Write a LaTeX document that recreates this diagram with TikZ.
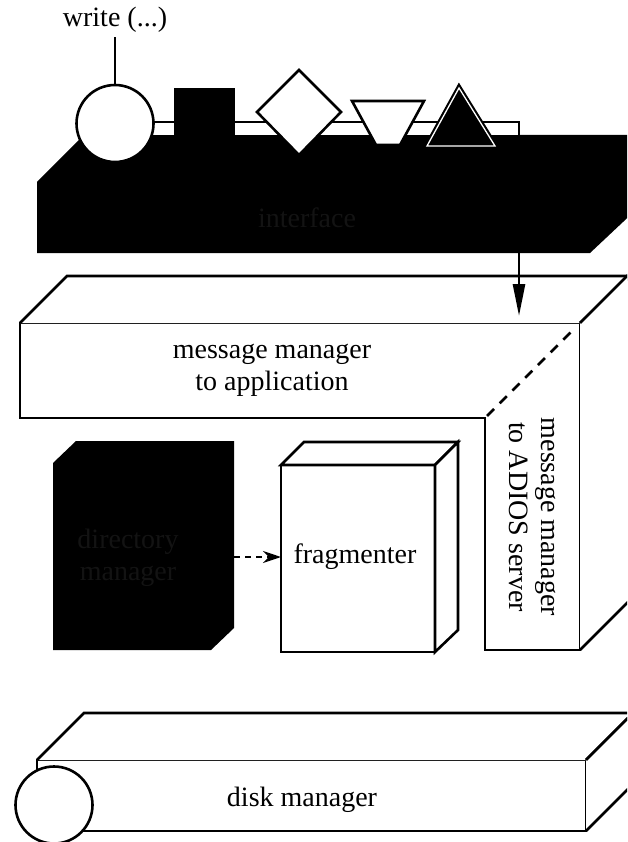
\documentclass[tikz,border=0pt]{standalone}
\usepackage{fontspec}
\setmainfont{Liberation Serif}
\usetikzlibrary{arrows.meta}

\begin{document}
\begin{tikzpicture}[x=1pt, y=-1pt, line width=2.6pt,
    every node/.style={font=\fontsize{28}{32}\selectfont, align=center},
    hidden/.style={text=gray!15!black}]
  \useasboundingbox (0,0) rectangle (627,842);
  \clip (0,0) rectangle (627,842);

  % interface slab
  \fill (37,182) -- (84,135) -- (640,135) -- (640,206) -- (590,253) -- (37,253) -- cycle;
  \node[hidden] (iface) at (307,218) {interface};
  \coordinate (port) at (519,135);

  % bar of the call
  \draw[fill=white] (140,135) -- (140,122) -- (519,122) -- (519,135);

  % write call and its arguments
  \node (write) at (115,20) {write (...)};
  \node[circle, draw, fill=white, minimum size=77pt, inner sep=0pt] (wr) at (115,123.5) {};
  \draw (write.south) -- (wr.north);
  \fill (174,88) rectangle (235,146);
  \draw[fill=white] (299,70) -- (341,112) -- (299,155) -- (257,112) -- cycle;
  \draw[fill=white] (352,101) -- (424,101) -- (400,145) -- (376,145) -- cycle;
  \filldraw[line width=5.5pt] (459,88) -- (495,146) -- (427,146) -- cycle;
  \draw[white, line width=1.3pt] (459,88) -- (495,146) -- (427,146) -- cycle;

  % message manager
  \draw[fill=white] (20,323) -- (580,323) -- (580,650) -- (485,650) -- (485,418) -- (20,418) -- cycle;
  \draw[fill=white] (20,323) -- (67,276) -- (630,276) -- (580,323);
  \draw[fill=white] (580,323) -- (630,273) -- (630,600) -- (580,650);
  \draw[dashed, dash pattern=on 10pt off 8pt] (487,416) -- (575,328);
  \node (msgapp) at (272,370) {message manager\\to application};
  \node[rotate=-90] (msgsrv) at (533,517) {message manager\\to ADIOS server};
  \coordinate (msgtop) at (519,316);
  \draw[-{Triangle[length=32pt, width=12pt]}] (port) -- (msgtop);

  % directory manager
  \fill (53,463) -- (76,441) -- (234,441) -- (234,628) -- (211,650) -- (53,650) -- cycle;
  \node[hidden] (dir) at (128,558) {directory\\manager};
  \coordinate (dirside) at (234,557);

  % fragmenter
  \draw[fill=white] (281,465) rectangle (435,652);
  \draw[fill=white] (281,465) -- (304,442) -- (458,442) -- (435,465) -- cycle;
  \draw[fill=white] (435,465) -- (458,442) -- (458,630) -- (435,652) -- cycle;
  \node (frag) at (355,557) {fragmenter};
  \coordinate (fragside) at (281,557);
  \draw[dashed, dash pattern=on 6pt off 5pt, -{Stealth[length=18pt, width=12pt]}] (dirside) -- (fragside);

  % disk manager
  \draw[fill=white] (37,760) rectangle (586,831);
  \draw[fill=white] (37,760) -- (84,713) -- (633,713) -- (586,760);
  \draw[fill=white] (586,760) -- (633,713) -- (633,784) -- (586,831);
  \node (disk) at (302,800) {disk manager};
  \node[circle, draw, fill=white, minimum size=77pt, inner sep=0pt] (spin) at (54,805) {};
\end{tikzpicture}
\end{document}
